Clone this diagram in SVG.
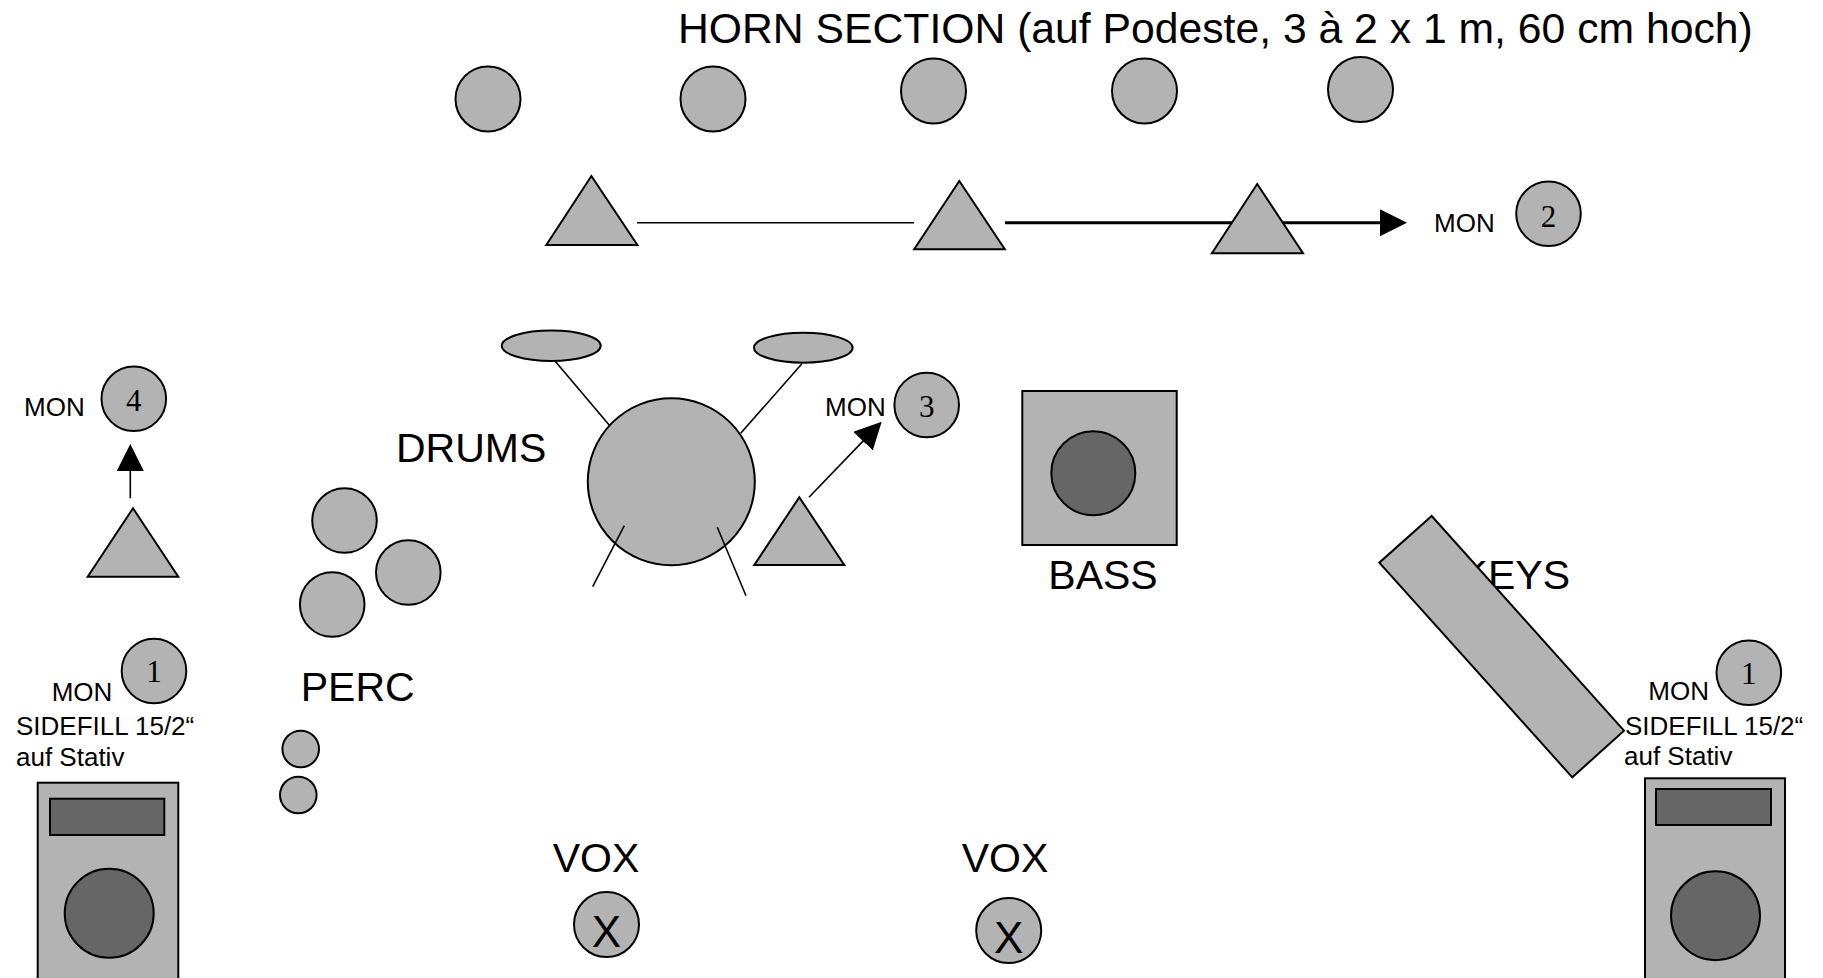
<svg xmlns="http://www.w3.org/2000/svg" width="1823" height="978" viewBox="0 0 1823 978">
<style>
.g{fill:#b3b3b3;stroke:#000;stroke-width:2}
.d{fill:#666;stroke:#000;stroke-width:2}
.t{font-family:"Liberation Sans",Arial,sans-serif;fill:#000}
.n{font-family:"Liberation Serif","Times New Roman",serif;font-size:31px;fill:#000;text-anchor:middle}
.ln{stroke:#000;stroke-width:1.6;fill:none}
.lb{stroke:#000;stroke-width:3;fill:none}
</style>
<defs>
<marker id="ah" markerUnits="userSpaceOnUse" markerWidth="28" markerHeight="28" refX="1" refY="13.5" orient="auto">
<path d="M0,0 L27,13.5 L0,27 z" fill="#000"/>
</marker>
</defs>
<rect width="1823" height="978" fill="#fff"/>
<text class="t" x="678" y="43" font-size="42.7">HORN SECTION (auf Podeste, 3 à 2 x 1 m, 60 cm hoch)</text>
<g id="horns">
<circle class="g" cx="488" cy="99" r="32.5"/>
<circle class="g" cx="713" cy="99" r="32.5"/>
<circle class="g" cx="933.5" cy="91" r="32.5"/>
<circle class="g" cx="1144.5" cy="91" r="32.5"/>
<circle class="g" cx="1360.5" cy="89.5" r="32.5"/>
</g>
<g id="connectors">
<line class="ln" x1="637" y1="222.7" x2="914" y2="222.7"/>
<line class="lb" x1="1005" y1="222.7" x2="1381" y2="222.7" marker-end="url(#ah)"/>
<line class="ln" x1="130.3" y1="498.3" x2="130.3" y2="470" marker-end="url(#ah)"/>
<line class="ln" x1="809" y1="497.3" x2="863.7" y2="440.4" marker-end="url(#ah)"/>
</g>
<g id="horn-monitors">
<polygon class="g" points="591.4,176 637.4,245 546.3,245"/>
<polygon class="g" points="959.3,181 1004.8,249.3 914.2,249.3"/>
<polygon class="g" points="1257.2,184 1303,253.3 1211.9,253.3"/>
</g>
<g id="mon2">
<text class="t" x="1434" y="231.7" font-size="26">MON</text>
<circle class="g" cx="1548.5" cy="213.8" r="32.3"/>
<text class="n" x="1548.5" y="226.5">2</text>
</g>
<g id="mon4">
<text class="t" x="24" y="416" font-size="26">MON</text>
<circle class="g" cx="133.8" cy="398.8" r="32.3"/>
<text class="n" x="133.8" y="410.7">4</text>
<polygon class="g" points="133,508.3 178.3,576.7 87.7,576.7"/>
</g>
<g id="perc">
<circle class="g" cx="344.5" cy="520.5" r="32.3"/>
<circle class="g" cx="408.3" cy="572.5" r="32.3"/>
<circle class="g" cx="332.2" cy="604.5" r="32.3"/>
<text class="t" x="300.7" y="701" font-size="41">PERC</text>
<circle class="g" cx="300.7" cy="749" r="18.3"/>
<circle class="g" cx="298.3" cy="795" r="18.3"/>
</g>
<g id="drums">
<text class="t" x="396" y="461.7" font-size="41">DRUMS</text>
<ellipse class="g" cx="551.2" cy="345.8" rx="49.5" ry="15.2"/>
<ellipse class="g" cx="803.3" cy="347.7" rx="49.3" ry="15"/>
<line class="ln" x1="555" y1="361" x2="610" y2="426"/>
<line class="ln" x1="801.7" y1="364" x2="740.7" y2="433.3"/>
<circle class="g" cx="671.3" cy="481.7" r="83.5"/>
<line class="ln" x1="624.3" y1="525.7" x2="592.7" y2="586.7"/>
<line class="ln" x1="717.3" y1="527.3" x2="746" y2="595.7"/>
</g>
<g id="mon3">
<polygon class="g" points="799.3,497.3 844.3,565 754.3,565"/>
<text class="t" x="825" y="416" font-size="26">MON</text>
<circle class="g" cx="926.7" cy="405" r="32.3"/>
<text class="n" x="926.7" y="416.7">3</text>
</g>
<g id="bass">
<rect class="g" x="1022.3" y="391" width="154.4" height="154"/>
<circle class="d" cx="1093.3" cy="473.2" r="42"/>
<text class="t" x="1048.3" y="589.3" font-size="41">BASS</text>
</g>
<g id="keys">
<text class="t" x="1460.6" y="589.3" font-size="41">KEYS</text>
<polygon class="g" points="1431.7,516 1624,730.7 1572.3,777.3 1379.3,562.7"/>
</g>
<g id="sidefill-left">
<text class="t" x="51.7" y="701" font-size="26">MON</text>
<circle class="g" cx="154" cy="671" r="32.3"/>
<text class="n" x="154" y="682">1</text>
<text class="t" x="16" y="735" font-size="26">SIDEFILL 15/2“</text>
<text class="t" x="16" y="766" font-size="26">auf Stativ</text>
<rect class="g" x="37.7" y="782.7" width="140.6" height="210"/>
<rect class="d" x="50" y="798.7" width="114.3" height="36.3"/>
<circle class="d" cx="109.2" cy="913.3" r="44.5"/>
</g>
<g id="sidefill-right">
<text class="t" x="1648.3" y="700" font-size="26">MON</text>
<circle class="g" cx="1748.8" cy="672.8" r="32.3"/>
<text class="n" x="1748.8" y="684">1</text>
<text class="t" x="1625" y="735" font-size="26">SIDEFILL 15/2“</text>
<text class="t" x="1624" y="765" font-size="26">auf Stativ</text>
<rect class="g" x="1645" y="778.3" width="140" height="210"/>
<rect class="d" x="1656" y="789" width="115" height="36"/>
<circle class="d" cx="1715.5" cy="915.7" r="44.5"/>
</g>
<g id="vox1">
<text class="t" x="552.7" y="872.3" font-size="41">VOX</text>
<circle class="g" cx="606.5" cy="924.5" r="32.5"/>
<text class="t" x="606.5" y="946.7" font-size="44" text-anchor="middle">X</text>
</g>
<g id="vox2">
<text class="t" x="961.7" y="872.3" font-size="41">VOX</text>
<circle class="g" cx="1008.7" cy="930.5" r="32.5"/>
<text class="t" x="1008.7" y="953.3" font-size="44" text-anchor="middle">X</text>
</g>
</svg>
